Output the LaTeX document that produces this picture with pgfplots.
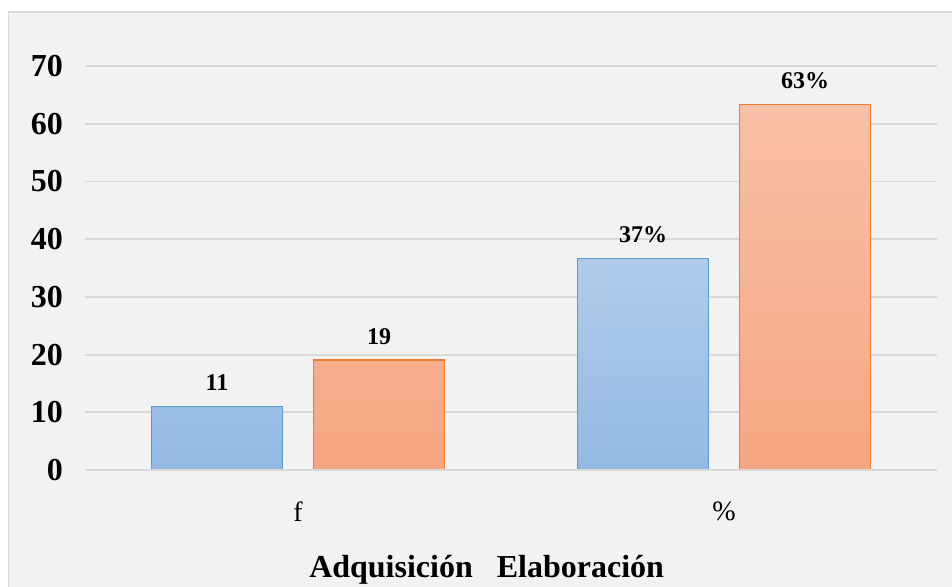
\documentclass[border=0pt]{standalone}
\usepackage{fontspec}
\setmainfont{Liberation Serif}
\usepackage{pgfplots}
\pgfplotsset{compat=1.18}
\definecolor{bgc}{HTML}{F2F2F2}
\definecolor{frm}{HTML}{D9D9D9}
\definecolor{gridc}{HTML}{D9D9D9}
\definecolor{bluetop}{HTML}{B1CBEA}
\definecolor{bluebot}{HTML}{93B9E3}
\definecolor{blueedge}{HTML}{5B9BD5}
\definecolor{orgtop}{HTML}{F8C0A7}
\definecolor{orgbot}{HTML}{F6A682}
\definecolor{orgedge}{HTML}{ED7D31}
\begin{document}
\begin{tikzpicture}
\useasboundingbox (0,0) rectangle (714pt,439.5pt);
\fill[white] (0,0) rectangle (714pt,439.5pt);
\draw[frm, fill=bgc, line width=1.2pt] (6.3pt,-5pt) rectangle (722pt,430.5pt);
\begin{axis}[
  at={(63.75pt,87pt)}, anchor=south west,
  scale only axis, width=639pt, height=303pt,
  xmin=-0.5, xmax=1.5, ymin=0, ymax=70,
  xtick={0,1}, xticklabels={f,\%},
  ytick={0,10,...,70},
  axis line style={draw=none},
  major tick length=0pt,
  ymajorgrids, major grid style={gridc, line width=1.4pt},
  /pgf/number format/assume math mode=true,
  yticklabel style={font=\fontsize{24}{27}\selectfont\bfseries, xshift=-13pt},
  xticklabel style={font=\fontsize{21}{24}\selectfont, yshift=-20pt},
  ybar, bar width=98.2pt,
  clip=false,
  nodes near coords,
  every node near coord/.append style={font=\fontsize{18}{21}\selectfont\bfseries, text=black, yshift=8pt},
  legend style={at={(0.4714,-0.24)}, anchor=center, draw=none, fill=none,
    legend columns=2, font=\fontsize{24}{27}\selectfont\bfseries,
    /tikz/every even column/.append style={column sep=14pt}},
  legend image code/.code={},
]
\addplot+[bar shift=-60.75pt, draw=blueedge, line width=1.3pt, top color=bluetop, bottom color=bluebot,
  point meta=explicit symbolic]
  coordinates {(0,11) [11] (1,36.67) [37\%]};
\addplot+[bar shift=60.75pt, draw=orgedge, line width=1.3pt, top color=orgtop, bottom color=orgbot,
  point meta=explicit symbolic]
  coordinates {(0,19) [19] (1,63.33) [63\%]};
\legend{Adquisición,Elaboración}
\draw[gridc, line width=1.4pt] (axis cs:-0.5,0) -- (axis cs:1.5,0);
\end{axis}
\end{tikzpicture}
\end{document}
